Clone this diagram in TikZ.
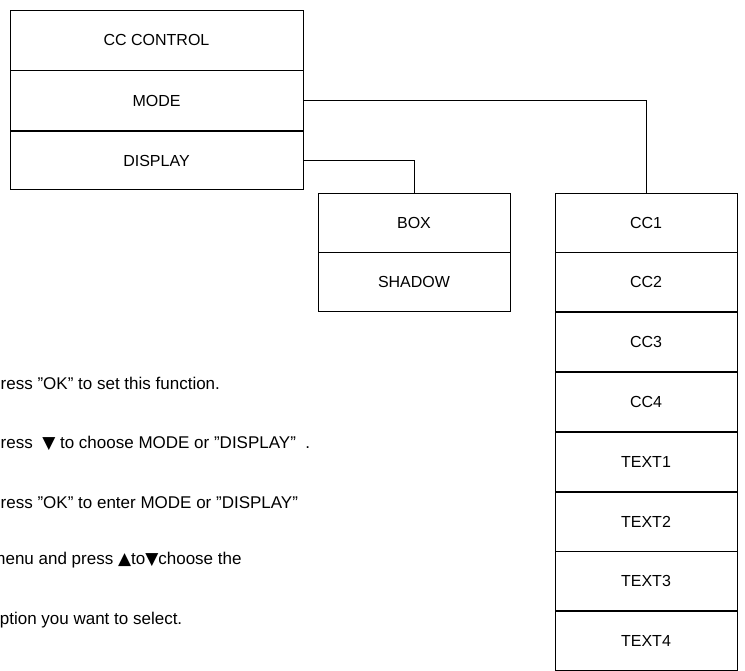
\documentclass[tikz,border=0pt]{standalone}
\usepackage{fontspec}
\setmainfont{Liberation Sans}
\newfontfamily\symfont{DejaVu Sans}
\newcommand{\dntri}{{\symfont\char"25BC}}
\newcommand{\uptri}{{\symfont\char"25B2}}
\usetikzlibrary{positioning}
\begin{document}
\begin{tikzpicture}[x=1pt,y=-1pt, thick,
    cell/.style = {draw, minimum height=59pt, inner sep=0pt, font=\fontsize{16}{18}\selectfont},
    menu/.style = {cell, minimum width=293pt},
    sub/.style = {cell, minimum width=192pt},
    cc/.style = {cell, minimum width=182pt},
    note/.style = {anchor=west, inner sep=0pt, font=\fontsize{17}{20}\selectfont}]
    \useasboundingbox (0,0) rectangle (745,671);
    \clip (0,0) rectangle (745,671);
    % Menu principale
    \node[menu, minimum height=60pt] (ctrl) at (156.5,40) {CC CONTROL};
    \node[menu, minimum height=60pt] (mode) [below=0pt of ctrl] {MODE};
    \node[menu, minimum height=58pt] (disp) [below=0pt of mode] {DISPLAY};
    % Sottomenu DISPLAY
    \node[sub] (box) at (414,222.5) {BOX};
    \node[sub] (shadow) [below=0pt of box] {SHADOW};
    % Sottomenu MODE
    \node[cc] (cc1) at (646,222.5) {CC1};
    \node[cc] (cc2) [below=0pt of cc1] {CC2};
    \node[cc] (cc3) [below=0pt of cc2] {CC3};
    \node[cc] (cc4) [below=0pt of cc3] {CC4};
    \node[cc] (t1) [below=0pt of cc4] {TEXT1};
    \node[cc] (t2) [below=0pt of t1] {TEXT2};
    \node[cc] (t3) [below=0pt of t2] {TEXT3};
    \node[cc] (t4) [below=0pt of t3] {TEXT4};
    % Collegamenti
    \draw (mode.east) -| (cc1.north);
    \draw (disp.east) -| (box.north);
    % Istruzioni
    \node[note] (n1) at (-11,383) {Press "OK" to set this function.};
    \node[note] (n2) at (-11,443) {Press \ \dntri\ to choose MODE or "DISPLAY" \ .};
    \node[note] (n3) at (-11,503) {Press "OK" to enter MODE or "DISPLAY"};
    \node[note] (n4) at (-9,560) {menu and press \uptri to\dntri choose the};
    \node[note] (n5) at (-10,620) {option you want to select.};
\end{tikzpicture}
\end{document}
